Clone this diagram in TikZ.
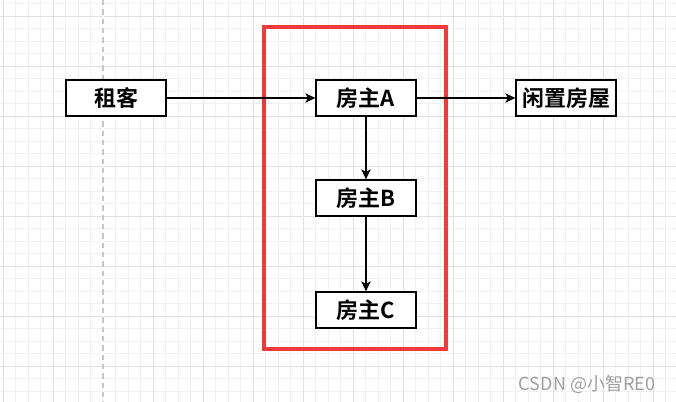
\documentclass[tikz,border=0pt]{standalone}
\usepackage{fontspec}
\usepackage{tikz}
\usetikzlibrary{arrows.meta}
\newfontfamily\cjk{Noto Sans CJK SC}[BoldFont={Noto Sans CJK SC Bold}]
\definecolor{frame red}{RGB}{242,58,58}
\definecolor{grid minor}{RGB}{241,241,241}
\definecolor{grid major}{RGB}{225,225,225}

\begin{document}
\begin{tikzpicture}[x=0.75pt, y=-0.75pt,
		role/.style={draw=black, fill=white, line width=1pt, minimum width=75pt, minimum height=27pt, inner sep=0pt, font=\cjk\bfseries\fontsize{16.5}{19}\selectfont},
		link/.style={-{Stealth[length=7.5pt, width=7pt, inset=2pt]}, line width=0.9pt}]
			\useasboundingbox (0,0) rectangle (676,402);
			\fill[white] (0,0) rectangle (676,402);
			% background grid
			\foreach \k in {0,...,54} {
				\pgfmathsetmacro{\gx}{3+12.5*\k}
				\draw[grid minor, line width=0.6pt] (\gx,0) -- (\gx,402);
			}
			\foreach \k in {0,...,32} {
				\pgfmathsetmacro{\gy}{3.5+12.5*\k}
				\draw[grid minor, line width=0.6pt] (0,\gy) -- (676,\gy);
			}
			\foreach \k in {0,...,13} {
				\pgfmathsetmacro{\gx}{3+50*\k}
				\draw[grid major, line width=0.6pt] (\gx,0) -- (\gx,402);
			}
			\foreach \k in {0,...,7} {
				\pgfmathsetmacro{\gy}{16+50*\k}
				\draw[grid major, line width=0.6pt] (0,\gy) -- (676,\gy);
			}
			\draw[white, line width=1pt] (103,0) -- (103,402);
			\draw[gray!45, line width=0.8pt, dash pattern=on 4pt off 3pt] (103,0) -- (103,402);

			% landlords frame
			\draw[frame red, line width=2.6pt] (264,27) rectangle (446,349);

			\node[role] (tenant) at (116,98) {租客};
			\node[role] (ownerA) at (366,98) {房主A};
			\node[role] (house) at (566,98) {闲置房屋};
			\node[role] (ownerB) at (366,198) {房主B};
			\node[role] (ownerC) at (366,310) {房主C};

			\draw[link] (tenant) -- (ownerA);
			\draw[link] (ownerA) -- (house);
			\draw[link] (ownerA) -- (ownerB);
			\draw[link] (ownerB) -- (ownerC);

			\node[text=gray!75, font=\cjk\fontsize{13.5}{15}\selectfont] (mark) at (587,384) {CSDN @小智RE0};
		\end{tikzpicture}
\end{document}
